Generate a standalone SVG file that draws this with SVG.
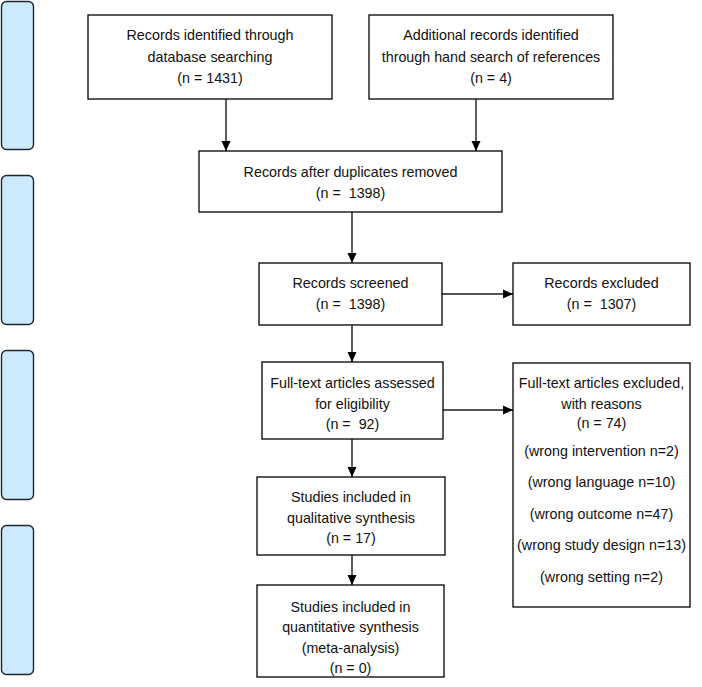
<svg xmlns="http://www.w3.org/2000/svg" width="702" height="687" viewBox="0 0 702 687">
<style>
.box{fill:#fff;stroke:#000;stroke-width:1.3}
.side{fill:#cde9fc;stroke:#1c2733;stroke-width:1.4}
.t{font-family:"Liberation Sans",Arial,sans-serif;font-size:14.3px;fill:#111;text-anchor:middle;white-space:pre}
.c{stroke:#1a1a1a;stroke-width:1.4;fill:none;marker-end:url(#ah)}
</style>
<defs>
<marker id="ah" viewBox="0 0 10 10" refX="10" refY="5" markerWidth="10" markerHeight="10" markerUnits="userSpaceOnUse" orient="auto">
<path d="M0,0.5 L10,5 L0,9.5 Z" fill="#000"/>
</marker>
</defs>
<rect width="702" height="687" fill="#fff"/>
<g id="stage-identification"><rect class="side" x="1.5" y="1.5" width="32" height="148" rx="5"/></g>
<g id="stage-screening"><rect class="side" x="1.5" y="175.5" width="32" height="149" rx="5"/></g>
<g id="stage-eligibility"><rect class="side" x="1.5" y="350.5" width="32" height="149" rx="5"/></g>
<g id="stage-included"><rect class="side" x="1.5" y="525.5" width="32" height="149" rx="5"/></g>

<g id="connectors">
<line class="c" x1="226" y1="99" x2="226" y2="151"/>
<line class="c" x1="476" y1="99" x2="476" y2="151"/>
<line class="c" x1="352" y1="212" x2="352" y2="263"/>
<line class="c" x1="442" y1="294" x2="513" y2="294"/>
<line class="c" x1="352" y1="325" x2="352" y2="362"/>
<line class="c" x1="443" y1="410" x2="513" y2="410"/>
<line class="c" x1="352" y1="439" x2="352" y2="477"/>
<line class="c" x1="352" y1="555" x2="352" y2="585"/>
</g>

<g id="db-search">
<rect class="box" x="88" y="15" width="244" height="84"/>
<text class="t" x="210" y="40">Records identified through</text>
<text class="t" x="210" y="62">database searching</text>
<text class="t" x="210" y="83">(n = 1431)</text>
</g>
<g id="hand-search">
<rect class="box" x="369" y="15" width="244" height="84"/>
<text class="t" x="491" y="40">Additional records identified</text>
<text class="t" x="491" y="62">through hand search of references</text>
<text class="t" x="491" y="83">(n = 4)</text>
</g>
<g id="dedup">
<rect class="box" x="199" y="151" width="303" height="61"/>
<text class="t" x="350.5" y="177">Records after duplicates removed</text>
<text class="t" x="350.5" y="198" xml:space="preserve">(n =  1398)</text>
</g>
<g id="screened">
<rect class="box" x="259" y="263" width="183" height="62"/>
<text class="t" x="350.5" y="288">Records screened</text>
<text class="t" x="350.5" y="309" xml:space="preserve">(n =  1398)</text>
</g>
<g id="excluded">
<rect class="box" x="513" y="263" width="177" height="62"/>
<text class="t" x="601.5" y="288">Records excluded</text>
<text class="t" x="601.5" y="309" xml:space="preserve">(n =  1307)</text>
</g>
<g id="fulltext">
<rect class="box" x="262" y="362" width="181" height="77"/>
<text class="t" x="352.5" y="388">Full-text articles assessed</text>
<text class="t" x="352.5" y="409">for eligibility</text>
<text class="t" x="352.5" y="429" xml:space="preserve">(n =  92)</text>
</g>
<g id="fulltext-excluded">
<rect class="box" x="513" y="363" width="177" height="244"/>
<text class="t" x="601.5" y="388">Full-text articles excluded,</text>
<text class="t" x="601.5" y="409">with reasons</text>
<text class="t" x="601.5" y="428">(n = 74)</text>
<text class="t" x="601.5" y="456">(wrong intervention n=2)</text>
<text class="t" x="601.5" y="487">(wrong language n=10)</text>
<text class="t" x="601.5" y="519">(wrong outcome n=47)</text>
<text class="t" x="601.5" y="550">(wrong study design n=13)</text>
<text class="t" x="601.5" y="582">(wrong setting n=2)</text>
</g>
<g id="qualitative">
<rect class="box" x="257" y="477" width="188" height="78"/>
<text class="t" x="351" y="502">Studies included in</text>
<text class="t" x="351" y="523">qualitative synthesis</text>
<text class="t" x="351" y="543">(n = 17)</text>
</g>
<g id="quantitative">
<rect class="box" x="257" y="585" width="187" height="92"/>
<text class="t" x="350.5" y="612">Studies included in</text>
<text class="t" x="350.5" y="632">quantitative synthesis</text>
<text class="t" x="350.5" y="653">(meta-analysis)</text>
<text class="t" x="350.5" y="673">(n = 0)</text>
</g>
</svg>
